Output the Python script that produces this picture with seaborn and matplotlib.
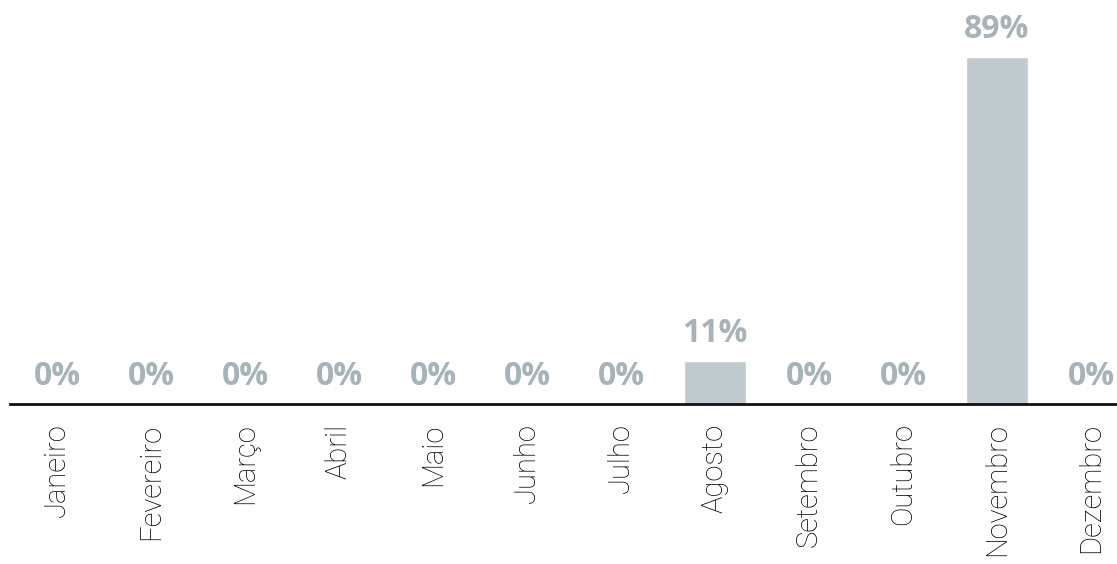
import pandas as pd
import matplotlib.pyplot as plt
import seaborn as sns

meses = ["Janeiro", "Fevereiro", "Março", "Abril", "Maio", "Junho",
         "Julho", "Agosto", "Setembro", "Outubro", "Novembro", "Dezembro"]
valores = [0, 0, 0, 0, 0, 0, 0, 11, 0, 0, 89, 0]

df = pd.DataFrame({"mes": meses, "valor": valores})

sns.set_style("white")
plt.rcParams['font.family'] = ['Roboto', 'DejaVu Sans']

fig = plt.figure(figsize=(11.17, 5.64), dpi=100)
ax = fig.add_axes([10 / 1117, 160 / 564, 1128 / 1117, 390 / 564])

sns.barplot(data=df, x="mes", y="valor", color="#c0cacf", width=0.67,
            saturation=1, ax=ax)

for i, v in enumerate(valores):
    ax.annotate(f"{v}%", (i, v), xytext=(0, 8), textcoords="offset points",
                ha="center", va="bottom", fontsize=23, fontweight="bold",
                color="#a6b3b8", family=["Open Sans", "DejaVu Sans"])

ax.set_xlim(-0.5, 11.5)
ax.set_ylim(0, 100)
ax.set_xlabel("")
ax.set_ylabel("")
ax.set_yticks([])
ax.tick_params(axis="x", length=0, pad=14, labelsize=21, labelrotation=90,
               labelcolor="#000000")
for lbl in ax.get_xticklabels():
    lbl.set_fontweight("light")
for s in ["top", "right", "left"]:
    ax.spines[s].set_visible(False)
ax.spines["bottom"].set_color("#111111")
ax.spines["bottom"].set_linewidth(2)

fig.savefig("out.png", dpi=100)
